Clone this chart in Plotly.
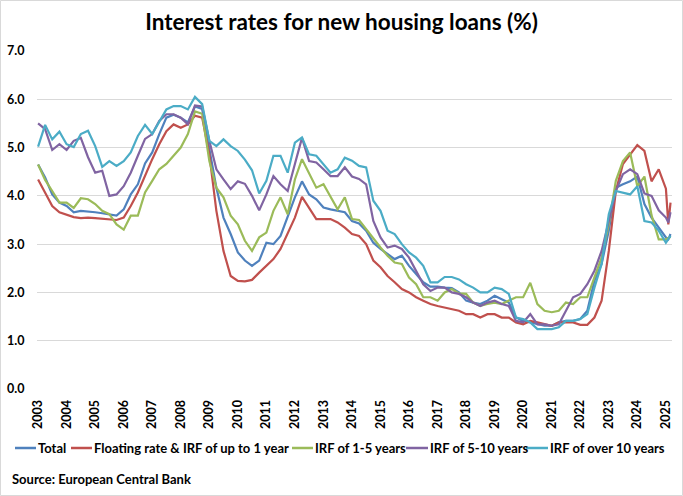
import pandas as pd
import plotly.graph_objects as go

# Quarterly observations Jan 2003 .. Jan 2025, then Feb and Mar 2025
dates = list(pd.date_range("2003-01-01", periods=89, freq="QS").strftime("%Y-%m-%d")) + ["2025-02-01", "2025-03-01"]

total = [4.65, 4.38, 4.03, 3.86, 3.79, 3.66, 3.69, 3.68, 3.66, 3.64, 3.62, 3.59, 3.72, 4.03, 4.24, 4.67,
         4.90, 5.28, 5.62, 5.68, 5.62, 5.52, 5.85, 5.80, 4.97, 4.17, 3.55, 3.21, 2.83, 2.66, 2.55, 2.66,
         3.03, 3.00, 3.17, 3.55, 3.97, 4.30, 4.03, 3.93, 3.76, 3.72, 3.69, 3.66, 3.48, 3.43, 3.28, 3.03,
         2.90, 2.79, 2.69, 2.76, 2.55, 2.38, 2.21, 2.12, 2.12, 2.10, 2.09, 2.00, 1.83, 1.79, 1.76, 1.83,
         1.93, 1.86, 1.79, 1.48, 1.41, 1.38, 1.34, 1.31, 1.31, 1.38, 1.41, 1.41, 1.45, 1.62, 2.24, 2.59,
         3.28, 4.17, 4.24, 4.30, 4.40, 3.83, 3.55, 3.34, 3.14, 3.10, 3.21]

floating = [4.34, 4.07, 3.79, 3.66, 3.61, 3.56, 3.54, 3.55, 3.54, 3.53, 3.52, 3.50, 3.55, 3.79, 4.07, 4.43,
            4.76, 5.07, 5.34, 5.48, 5.41, 5.48, 5.66, 5.62, 4.86, 3.69, 2.86, 2.34, 2.24, 2.23, 2.26, 2.41,
            2.55, 2.69, 2.90, 3.21, 3.55, 3.98, 3.76, 3.52, 3.52, 3.52, 3.45, 3.34, 3.21, 3.17, 3.00, 2.66,
            2.52, 2.34, 2.21, 2.07, 2.00, 1.90, 1.83, 1.76, 1.72, 1.69, 1.66, 1.62, 1.55, 1.55, 1.48, 1.55,
            1.55, 1.48, 1.48, 1.38, 1.34, 1.41, 1.38, 1.34, 1.31, 1.38, 1.38, 1.38, 1.33, 1.33, 1.48, 1.83,
            2.86, 4.10, 4.66, 4.86, 5.05, 4.93, 4.30, 4.55, 4.15, 3.41, 3.86]

irf_1_5 = [4.65, 4.33, 4.10, 3.86, 3.86, 3.75, 3.95, 3.93, 3.83, 3.69, 3.62, 3.41, 3.30, 3.59, 3.59, 4.07,
           4.31, 4.55, 4.66, 4.83, 5.00, 5.28, 5.75, 5.70, 4.72, 4.17, 3.97, 3.59, 3.41, 3.07, 2.86, 3.14,
           3.24, 3.69, 3.97, 3.62, 4.34, 4.76, 4.45, 4.17, 4.24, 3.97, 3.72, 3.97, 3.52, 3.50, 3.31, 3.10,
           2.93, 2.76, 2.62, 2.59, 2.31, 2.17, 1.90, 1.90, 1.83, 2.00, 2.07, 1.98, 1.97, 1.79, 1.72, 1.76,
           1.79, 1.76, 1.83, 1.90, 1.90, 2.20, 1.76, 1.62, 1.59, 1.62, 1.79, 1.76, 1.90, 1.90, 2.31, 2.72,
           3.41, 4.31, 4.72, 4.90, 4.20, 4.40, 3.60, 3.10, 3.10, 3.12, 3.15]

irf_5_10 = [5.50, 5.38, 4.95, 5.07, 4.95, 5.14, 5.20, 4.80, 4.48, 4.52, 4.00, 4.03, 4.20, 4.48, 4.83, 5.18,
            5.28, 5.55, 5.69, 5.69, 5.62, 5.48, 5.87, 5.85, 5.14, 4.55, 4.34, 4.14, 4.30, 4.25, 4.00, 3.70,
            4.03, 4.41, 4.24, 4.10, 4.66, 5.20, 4.72, 4.69, 4.55, 4.41, 4.41, 4.59, 4.40, 4.35, 4.24, 3.48,
            3.14, 2.93, 2.97, 2.90, 2.72, 2.45, 2.17, 2.03, 2.10, 2.10, 2.00, 1.97, 1.90, 1.79, 1.72, 1.79,
            1.83, 1.76, 1.72, 1.41, 1.38, 1.55, 1.34, 1.34, 1.31, 1.34, 1.62, 1.90, 1.97, 2.17, 2.45, 2.86,
            3.48, 4.10, 4.45, 4.55, 4.45, 4.05, 4.00, 3.70, 3.55, 3.45, 3.66]

irf_over_10 = [5.02, 5.47, 5.17, 5.33, 5.07, 5.01, 5.28, 5.35, 5.03, 4.60, 4.72, 4.62, 4.72, 4.90, 5.24, 5.47,
               5.28, 5.52, 5.79, 5.86, 5.86, 5.79, 6.05, 5.90, 5.14, 5.03, 5.17, 5.03, 4.93, 4.75, 4.53, 4.05,
               4.31, 4.83, 4.83, 4.48, 5.10, 5.21, 4.86, 4.83, 4.66, 4.48, 4.55, 4.79, 4.73, 4.62, 4.59, 3.90,
               3.69, 3.28, 3.21, 3.00, 2.83, 2.72, 2.55, 2.21, 2.21, 2.32, 2.32, 2.27, 2.17, 2.10, 2.00, 2.00,
               2.10, 2.07, 1.97, 1.48, 1.45, 1.38, 1.24, 1.24, 1.24, 1.28, 1.41, 1.41, 1.45, 1.55, 2.10, 2.59,
               3.62, 4.10, 4.07, 4.03, 4.20, 3.48, 3.45, 3.28, 3.03, 3.10, 3.17]

series_names = ["Total", "Floating rate & IRF of up to 1 year", "IRF of 1-5 years",
                "IRF of 5-10 years", "IRF of over 10 years"]
series_values = [total, floating, irf_1_5, irf_5_10, irf_over_10]
series_colors = ["#4F81BD", "#C0504D", "#9BBB59", "#8064A2", "#4BACC6"]

year_ticks = [f"{y}-01-01" for y in range(2003, 2026)]
year_labels = [str(y) for y in range(2003, 2026)]

FONT = "Lato, sans-serif"
W, H = 683, 496
ML, MR, MT, MB = 37, 11, 51, 107
PW, PH = W - ML - MR, H - MT - MB


def px_x(x):
    return (x - ML) / PW


def px_y(y):
    return (H - MB - y) / PH


fig = go.Figure()
for name, vals, col in zip(series_names, series_values, series_colors):
    fig.add_trace(go.Scatter(x=dates, y=vals, mode="lines", name=name, showlegend=False,
                             line=dict(color=col, width=2.2)))

fig.update_layout(
    width=W, height=H,
    margin=dict(l=ML, r=MR, t=MT, b=MB, autoexpand=False),
    paper_bgcolor="white", plot_bgcolor="white",
    font=dict(family=FONT, size=12, color="black"),
    title=dict(text="<b>Interest rates for new housing loans (%)</b>",
               x=0.5, xanchor="center", y=0.956, yanchor="middle",
               font=dict(family=FONT, size=22.5, color="black")),
    xaxis=dict(type="date", range=["2002-12-18", "2025-03-20"],
               tickmode="array", tickvals=year_ticks,
               ticktext=[f"<b>{t}</b>" for t in year_labels],
               tickangle=-90, showgrid=False, zeroline=False,
               showline=False, ticks="outside", ticklen=5, tickcolor="rgba(0,0,0,0)",
               tickfont=dict(size=12.5)),
    yaxis=dict(range=[0, 7],
               tickvals=[0, 1, 2, 3, 4, 5, 6, 7],
               ticktext=[f"<b>{v:.1f}</b>" for v in range(8)],
               showgrid=True, gridcolor="#D9D9D9", gridwidth=1,
               zeroline=False, showline=False,
               ticks="outside", ticklen=9, tickcolor="rgba(0,0,0,0)",
               tickfont=dict(size=12.5)),
    showlegend=False,
)

# Manual one-row legend (library's legend cannot be made this compact)
legend_line_x = [(15, 36), (71, 92), (292, 313), (406, 428), (526, 548)]
legend_y = 448
for (x0, x1), name, col in zip(legend_line_x, series_names, series_colors):
    fig.add_shape(type="line", xref="paper", yref="paper",
                  x0=px_x(x0), x1=px_x(x1), y0=px_y(legend_y), y1=px_y(legend_y),
                  line=dict(color=col, width=2.5))
    fig.add_annotation(text=f"<b>{name}</b>", xref="paper", yref="paper",
                       x=px_x(x1 + 1), y=px_y(legend_y), xanchor="left", yanchor="middle",
                       showarrow=False, font=dict(size=13), borderpad=0)

fig.add_annotation(text="<b>Source: European Central Bank</b>", xref="paper", yref="paper",
                   x=px_x(11), y=px_y(479), xanchor="left", yanchor="middle",
                   showarrow=False, font=dict(size=13), borderpad=0)

fig.add_shape(type="rect", xref="paper", yref="paper",
              x0=px_x(0.5), x1=px_x(682.5), y0=px_y(495.5), y1=px_y(0.5),
              line=dict(color="#D9D9D9", width=1))

fig.write_html("out.html")
